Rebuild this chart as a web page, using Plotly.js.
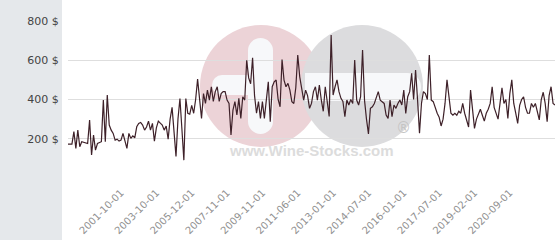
<!DOCTYPE html>
<html>
<head>
<meta charset="utf-8">
<script src="https://cdn.plot.ly/plotly-3.0.1.min.js"></script>
<style>html,body{margin:0;padding:0;background:#fff;}#chart{width:560px;height:240px;}</style>
</head>
<body>
<div id="chart"></div>
<script>
// Price series (one value per observation, in $)
const prices = [
173,173,173,236,151,244,159,185,181,181,176,295,117,219,142,176,181,185,397,185,
423,270,244,227,193,198,188,193,227,193,151,227,202,215,205,261,278,283,270,244,
260,290,244,278,188,255,290,280,270,244,265,198,300,360,250,110,300,405,250,91,
405,330,325,370,330,400,504,397,304,430,380,448,397,465,390,440,465,390,430,440,
440,397,380,219,346,389,321,406,304,414,397,600,510,480,613,420,330,389,304,389,
304,397,490,287,465,490,499,400,363,604,499,465,482,448,389,380,460,627,516,457,
397,448,420,355,380,440,465,397,474,397,340,465,389,314,728,423,465,500,440,406,
390,312,397,372,400,380,601,397,372,414,652,397,300,225,355,363,380,414,440,397,
389,380,321,304,397,312,372,355,380,397,372,448,329,414,440,534,400,550,400,228,
380,440,430,400,627,397,389,355,330,310,265,300,380,500,400,330,320,330,320,340,
330,380,330,300,260,448,330,253,300,330,350,320,290,330,350,380,465,360,330,300,
380,460,380,400,304,430,500,380,330,278,370,400,414,360,330,330,380,360,380,340,
296,400,437,380,287,420,465,380,372
];
// Category tick labels and the observation index they sit on
const tickIndex  = [27,45,63,81,99,117,135,153,171,189,207,225];
const tickLabels = ["2001-10-01","2003-10-01","2005-12-01","2007-11-01","2009-11-01","2011-06-01",
                    "2013-01-01","2014-07-01","2016-01-01","2017-07-01","2019-02-01","2020-09-01"];
const yTicks      = [0,200,400,600,800];
const yTickLabels = ["","200 $","400 $","600 $","800 $"];

// pixel -> paper helpers for decorative background
const L=68, T=21, PW=487, PH=157;
const px = x => (x-L)/PW;
const py = y => (T+PH-y)/PH;
function rect(x0,y0,x1,y1,c){return {type:'rect',xref:'paper',yref:'paper',x0:px(x0),x1:px(x1),y0:py(y1),y1:py(y0),fillcolor:c,line:{width:0},layer:'below'};}
function circ(cx,cy,r,c){return {type:'circle',xref:'paper',yref:'paper',x0:px(cx-r),x1:px(cx+r),y0:py(cy+r),y1:py(cy-r),fillcolor:c,line:{width:0},layer:'below'};}

const pink='#ecd3d7', grey='#dcdcde', wh='#f7f8fa';
const shapes = [
  rect(62,0,560,240,'#ffffff'),
  circ(261,86,61,pink),
  circ(362,86,61,grey),
  // white cut-outs of the logo
  rect(248,50,273,122,wh), circ(260.5,50.5,12.5,wh), circ(260.5,121.5,12.5,wh),
  rect(222,75,260,95,wh), circ(222,85,10,wh),
  rect(305,73,407,101,wh), circ(407,87,14,wh),
  rect(197,150,427,173,'rgba(255,255,255,0.55)')
];
const bgSvg = "<svg xmlns='http://www.w3.org/2000/svg' width='10' height='100' preserveAspectRatio='none'><defs><linearGradient id='g' x1='0' y1='0' x2='0' y2='1'><stop offset='0' stop-color='#eceef3'/><stop offset='1' stop-color='#ffffff'/></linearGradient></defs><rect width='10' height='100' fill='url(#g)'/></svg>";
const images = [{source:'data:image/svg+xml;charset=utf-8,'+encodeURIComponent(bgSvg),xref:'paper',yref:'paper',
  x:px(64),y:py(0),sizex:px(560)-px(64),sizey:py(0)-py(240),sizing:'stretch',xanchor:'left',yanchor:'top',layer:'below'}];

const trace = {y:prices,type:'scatter',mode:'lines',line:{color:'#3e2129',width:1.2},hoverinfo:'skip'};

const layout = {
  width:560,height:240,margin:{l:L,r:560-L-PW,t:T,b:240-T-PH},
  paper_bgcolor:'#e5e8eb',plot_bgcolor:'rgba(0,0,0,0)',showlegend:false,
  xaxis:{range:[0,prices.length-1],showgrid:false,zeroline:false,showline:false,
    tickmode:'array',tickvals:tickIndex,ticktext:tickLabels,tickangle:-45,
    ticks:'outside',ticklen:4,tickcolor:'rgba(0,0,0,0)',
    tickfont:{family:'DejaVu Sans',size:10,color:'#909090'}},
  yaxis:{range:[0,800],showgrid:true,gridcolor:'#dedede',gridwidth:1,zeroline:false,showline:false,
    tickmode:'array',tickvals:yTicks,ticktext:yTickLabels,
    ticks:'outside',ticklen:6,tickcolor:'rgba(0,0,0,0)',
    tickfont:{family:'DejaVu Sans',size:11,color:'#444444'}},
  shapes:shapes,images:images,
  annotations:[
    {xref:'paper',yref:'paper',x:px(311.5),y:py(161),text:'www.Wine-Stocks.com',showarrow:false,
     font:{family:'Liberation Sans, Arial',size:15,color:'#dcdcdc',weight:'bold'}},
    {xref:'paper',yref:'paper',x:px(413),y:py(139),text:'®',showarrow:false,
     font:{family:'DejaVu Sans',size:15,color:'#c4c4c4'}}
  ]
};
Plotly.newPlot('chart',[trace],layout,{displayModeBar:false,staticPlot:true});
</script>
</body>
</html>
